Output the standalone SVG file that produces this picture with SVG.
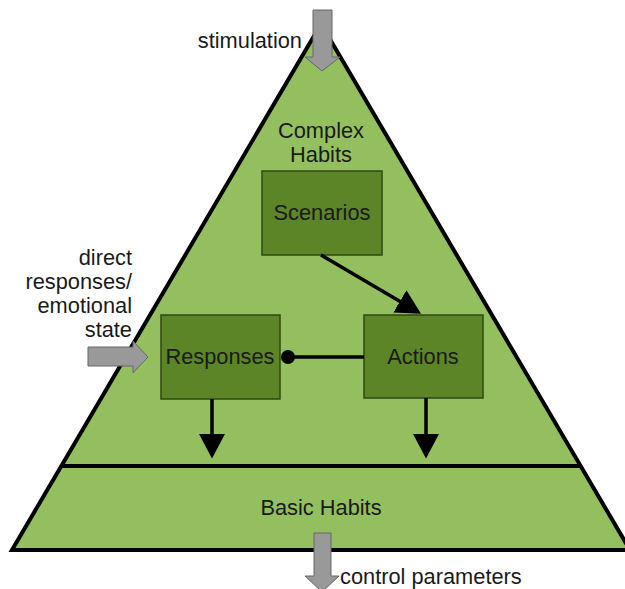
<svg xmlns="http://www.w3.org/2000/svg" width="625" height="589" viewBox="0 0 625 589">
<defs>
<style>
text{font-family:"Liberation Sans",Arial,sans-serif;font-size:21.8px;fill:#1a1a1a}
.c{text-anchor:middle}
.r{text-anchor:end}
.box{fill:#5b8526;stroke:#2f4a14;stroke-width:1.5}
.ga{fill:#999999;stroke:#666666;stroke-width:1}
.con{stroke:#000;stroke-width:3.5;fill:none}
</style>
<marker id="ah" markerWidth="8" markerHeight="8" refX="6" refY="4" orient="auto" markerUnits="strokeWidth" viewBox="0 0 8 8">
<path d="M0,0.3 L7,4 L0,7.7 Z" fill="#000"/>
</marker>
</defs>
<rect width="625" height="589" fill="#fff"/>
<g id="pyramid">
<polygon points="321,24 12,550 630,550" fill="#93bf5f" stroke="#000" stroke-width="4" stroke-linejoin="miter"/>
<line x1="61" y1="466" x2="581" y2="466" stroke="#000" stroke-width="4"/>
<text class="c" x="321" y="138">Complex</text>
<text class="c" x="321" y="162">Habits</text>
<text class="c" x="321" y="515">Basic Habits</text>
</g>
<g id="scenarios">
<rect class="box" x="262" y="171" width="120" height="84"/>
<text class="c" x="322" y="220">Scenarios</text>
</g>
<g id="responses">
<rect class="box" x="161" y="315" width="119" height="84"/>
<text class="c" x="220" y="364">Responses</text>
</g>
<g id="actions">
<rect class="box" x="364" y="315" width="119" height="83"/>
<text class="c" x="423" y="364">Actions</text>
</g>
<g id="stimulation">
<polygon class="ga" points="313,10 332,10 332,57 340,57 322,71 305,57 313,57"/>
<text class="r" x="302" y="48">stimulation</text>
</g>
<g id="direct-input">
<polygon class="ga" points="88,347 133,347 133,341 148,357 133,373 133,366 88,366"/>
<text class="r" x="132" y="265">direct</text>
<text class="r" x="132" y="289">responses/</text>
<text class="r" x="132" y="313">emotional</text>
<text class="r" x="132" y="337">state</text>
</g>
<g id="control-output">
<polygon class="ga" points="314,533 331,533 331,576 339,576 322,592 305,576 314,576"/>
<text x="340" y="584">control parameters</text>
</g>
<g id="connectors">
<line class="con" x1="321" y1="255" x2="418" y2="312" marker-end="url(#ah)"/>
<line class="con" x1="288" y1="357" x2="364" y2="357"/>
<circle cx="288" cy="357" r="7" fill="#000"/>
<line class="con" x1="212" y1="399" x2="212" y2="455" marker-end="url(#ah)"/>
<line class="con" x1="426" y1="398" x2="426" y2="455" marker-end="url(#ah)"/>
</g>
</svg>
